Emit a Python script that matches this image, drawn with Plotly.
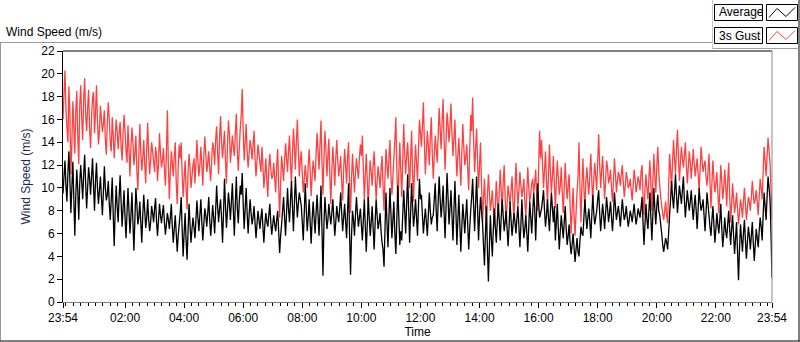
import plotly.graph_objects as go

# ---- data (one sample every 2 minutes, 23:54 -> 23:54 next day) ----
sample_minutes = 2

gust = [
    16.0, 18.2, 20.3, 17.0, 15.2, 14.0, 18.9, 16.5, 11.2, 13.8, 17.6, 15.4, 13.0, 16.8, 18.5, 14.6, 12.1, 17.2, 19.0, 16.1,
    14.2, 17.8, 19.6, 16.4, 15.0, 17.0, 18.6, 15.2, 13.5, 16.2, 17.9, 18.4, 14.8, 16.6, 19.0, 15.8, 13.8, 15.0, 17.2, 16.0,
    14.9, 15.6, 16.8, 14.2, 12.9, 15.8, 17.5, 16.0, 14.0, 13.2, 16.2, 14.6, 12.6, 14.4, 16.0, 15.0, 13.4, 14.8, 15.8, 13.6,
    12.4, 14.8, 16.4, 15.0, 13.2, 12.2, 15.5, 13.4, 11.0, 13.6, 15.3, 14.0, 12.0, 13.0, 14.6, 11.6, 9.8, 12.8, 15.6, 13.2,
    11.5, 12.6, 14.2, 12.0, 10.4, 13.4, 15.7, 13.0, 11.2, 12.4, 14.0, 13.2, 12.3, 11.4, 13.6, 12.8, 10.6, 12.2, 14.8, 13.0,
    11.8, 12.4, 13.5, 11.6, 10.2, 13.0, 16.8, 12.0, 9.0, 11.4, 13.2, 12.2, 11.0, 12.8, 14.0, 10.4, 8.6, 11.8, 13.8, 12.6,
    14.0, 11.2, 9.2, 10.8, 12.4, 10.0, 8.1, 11.4, 13.0, 11.8, 10.0, 11.0, 12.0, 12.6, 10.4, 12.2, 14.2, 12.4, 11.0, 12.0,
    13.6, 12.0, 10.2, 12.8, 14.5, 13.0, 11.4, 12.2, 13.2, 11.6, 10.6, 12.4, 14.0, 13.4, 12.0, 14.2, 15.4, 13.0, 11.2, 14.4,
    16.3, 14.0, 12.6, 13.8, 15.0, 12.4, 10.4, 13.6, 15.9, 14.8, 12.2, 13.4, 14.6, 13.6, 12.8, 14.8, 16.5, 13.2, 11.5, 13.4,
    15.2, 16.4, 18.7, 15.0, 12.4, 14.0, 15.6, 13.2, 11.8, 13.0, 14.2, 13.6, 12.5, 13.8, 15.0, 12.6, 11.0, 12.4, 13.8, 13.0,
    12.2, 11.4, 13.6, 12.0, 10.0, 11.2, 12.6, 10.6, 9.2, 11.8, 13.0, 11.6, 10.8, 11.0, 12.2, 10.8, 9.6, 12.0, 13.4, 10.2,
    7.4, 10.4, 12.8, 11.8, 10.6, 12.4, 13.9, 12.6, 11.4, 13.2, 14.6, 12.2, 10.4, 13.0, 15.2, 13.6, 11.6, 14.0, 16.0, 13.4,
    11.0, 12.4, 13.2, 11.2, 9.6, 10.8, 12.0, 11.0, 10.0, 12.0, 13.4, 11.4, 9.3, 11.0, 12.4, 11.6, 10.6, 13.0, 14.8, 13.2,
    11.6, 13.8, 15.9, 12.2, 9.4, 12.6, 15.0, 13.4, 11.0, 12.8, 14.3, 11.0, 8.6, 11.6, 13.6, 12.0, 10.2, 12.6, 14.2, 12.4,
    11.0, 11.8, 12.8, 10.4, 8.9, 11.6, 13.4, 12.0, 10.4, 12.6, 14.0, 10.6, 7.8, 10.8, 13.0, 11.2, 9.6, 11.4, 12.6, 11.6,
    10.8, 12.6, 13.8, 12.8, 14.6, 11.6, 9.0, 11.2, 13.0, 10.6, 8.4, 10.8, 12.4, 11.4, 10.2, 12.0, 13.2, 11.0, 9.0, 10.6,
    11.9, 11.0, 10.0, 11.6, 12.8, 10.2, 8.0, 11.0, 13.4, 12.0, 10.8, 12.6, 14.2, 11.2, 9.4, 11.0, 12.6, 14.2, 16.2, 11.8,
    8.2, 11.2, 14.0, 11.6, 9.2, 12.4, 15.6, 13.0, 11.2, 12.8, 14.0, 12.0, 10.0, 12.6, 15.0, 11.4, 8.8, 11.8, 13.8, 12.2,
    10.6, 13.4, 16.0, 14.8, 13.6, 15.4, 17.5, 14.0, 11.2, 13.2, 15.0, 13.6, 12.0, 14.4, 16.2, 13.0, 10.8, 12.8, 14.6, 13.4,
    12.2, 14.6, 17.0, 15.2, 13.4, 15.8, 17.8, 14.2, 11.6, 14.0, 16.6, 15.6, 14.0, 15.4, 17.4, 14.8, 12.8, 14.4, 16.0, 13.2,
    11.0, 12.8, 14.4, 12.2, 10.2, 13.0, 15.6, 13.6, 12.0, 12.6, 13.8, 11.6, 9.8, 13.2, 16.4, 15.0, 17.9, 14.2, 11.4, 13.4,
    15.2, 12.4, 10.0, 12.0, 14.0, 10.2, 7.0, 9.0, 10.8, 8.6, 6.8, 9.4, 11.2, 9.6, 8.0, 8.8, 9.8, 8.2, 6.6, 8.4,
    10.6, 9.0, 7.4, 9.6, 11.6, 9.8, 8.2, 10.4, 12.0, 9.2, 6.9, 8.8, 10.2, 9.4, 8.6, 9.8, 11.0, 8.8, 7.2, 10.0,
    12.2, 10.0, 8.4, 9.8, 11.4, 10.2, 9.2, 9.8, 10.8, 8.8, 7.4, 9.6, 11.8, 10.0, 8.8, 9.4, 10.4, 10.8, 9.6, 10.4,
    11.6, 9.4, 8.0, 11.8, 15.0, 12.6, 14.2, 12.0, 10.0, 11.6, 13.2, 10.6, 8.4, 11.2, 13.8, 11.4, 9.6, 11.0, 12.8, 10.4,
    8.2, 10.6, 12.4, 10.8, 9.4, 10.2, 11.8, 9.6, 7.8, 10.0, 12.2, 10.4, 9.0, 10.2, 11.2, 8.4, 6.0, 8.0, 10.0, 7.6,
    5.8, 7.8, 9.6, 11.0, 14.0, 9.8, 7.0, 10.2, 12.6, 10.0, 8.0, 10.6, 11.8, 10.4, 9.4, 11.2, 13.0, 10.6, 8.6, 10.8,
    12.2, 11.0, 9.8, 12.4, 14.7, 12.0, 10.0, 11.6, 12.8, 10.8, 9.0, 10.6, 12.4, 11.8, 10.4, 10.8, 11.6, 10.0, 8.8, 10.6,
    12.6, 11.2, 9.6, 10.6, 11.4, 11.0, 10.2, 11.2, 12.0, 10.4, 9.2, 10.2, 11.4, 10.8, 10.0, 10.2, 10.8, 9.8, 8.9, 10.2,
    11.6, 10.8, 9.6, 10.2, 11.0, 10.6, 9.8, 11.4, 12.0, 9.4, 7.6, 9.8, 11.2, 10.0, 9.0, 10.8, 12.4, 10.2, 8.0, 10.6,
    13.0, 11.0, 9.6, 11.8, 13.6, 11.4, 10.2, 9.2, 8.4, 7.8, 7.2, 8.0, 8.8, 7.6, 6.9, 10.0, 13.0, 11.6, 10.0, 12.2,
    14.2, 12.6, 11.2, 13.4, 15.1, 12.8, 10.6, 12.2, 13.6, 12.6, 11.8, 12.8, 14.0, 12.0, 10.4, 11.8, 13.2, 12.2, 10.8, 12.0,
    13.4, 12.2, 11.0, 11.8, 12.6, 11.2, 9.8, 11.6, 13.6, 12.4, 11.4, 12.0, 12.4, 11.0, 10.2, 11.4, 13.0, 10.6, 8.2, 10.4,
    12.4, 10.8, 9.6, 10.4, 11.4, 9.6, 7.8, 9.8, 12.0, 10.6, 9.0, 10.0, 11.6, 10.2, 8.4, 10.6, 12.2, 9.4, 7.0, 8.6,
    10.4, 9.0, 7.8, 8.6, 9.6, 8.2, 6.8, 7.8, 9.0, 8.4, 7.4, 8.8, 10.0, 8.6, 7.2, 8.2, 9.2, 8.8, 8.0, 9.2,
    10.6, 9.4, 8.6, 9.0, 9.8, 8.8, 7.6, 9.2, 10.8, 10.0, 9.0, 11.4, 13.6, 12.4, 11.0, 12.8, 14.4, 13.2, 12.2, 10.0,
    7.2,
]

average = [
    9.5, 11.0, 12.4, 10.2, 8.8, 11.4, 13.2, 10.6, 7.8, 10.0, 12.3, 9.0, 5.8, 9.4, 11.6, 9.8, 7.2, 10.4, 12.0, 10.6,
    9.0, 11.2, 12.9, 10.4, 8.2, 10.0, 11.8, 10.8, 9.4, 11.0, 12.6, 10.2, 8.0, 10.6, 12.2, 10.0, 8.6, 9.8, 11.0, 9.2,
    7.6, 9.6, 11.9, 10.0, 8.9, 9.4, 10.6, 8.6, 7.2, 9.0, 10.9, 7.6, 4.9, 8.0, 10.2, 8.4, 7.0, 9.2, 11.1, 8.8,
    6.6, 8.2, 9.8, 7.4, 5.6, 7.8, 10.0, 8.0, 6.0, 7.6, 9.6, 7.0, 4.5, 7.2, 10.0, 8.6, 6.8, 7.4, 8.8, 7.0,
    5.2, 7.6, 9.4, 8.0, 6.5, 7.4, 9.0, 7.2, 6.2, 7.0, 8.4, 7.8, 7.0, 8.2, 9.1, 7.0, 5.8, 7.2, 8.6, 7.6,
    6.9, 7.8, 8.5, 7.0, 5.9, 6.8, 7.8, 7.2, 6.4, 7.4, 8.6, 6.6, 5.2, 6.4, 7.6, 6.0, 4.4, 5.8, 6.8, 7.8,
    9.2, 6.4, 4.0, 6.0, 7.8, 5.4, 3.7, 6.2, 8.6, 6.8, 5.2, 6.4, 7.4, 6.6, 5.6, 7.2, 8.9, 7.4, 6.2, 7.6,
    9.0, 7.0, 5.4, 6.8, 8.2, 7.6, 6.6, 7.8, 9.2, 7.2, 5.8, 7.0, 8.5, 7.4, 6.0, 8.0, 10.2, 8.4, 7.0, 8.2,
    9.0, 7.4, 5.2, 7.8, 10.8, 8.4, 6.5, 8.0, 9.6, 8.6, 7.2, 8.8, 10.4, 8.0, 5.8, 8.6, 11.0, 8.2, 6.9, 8.8,
    10.2, 9.4, 11.3, 8.6, 6.4, 8.2, 10.0, 7.8, 6.0, 7.6, 9.0, 7.8, 6.8, 7.4, 8.4, 7.0, 5.6, 6.8, 8.0, 7.2,
    6.4, 7.4, 8.2, 6.6, 5.2, 6.8, 7.8, 7.0, 6.6, 7.6, 8.6, 7.0, 5.9, 6.8, 7.6, 6.8, 6.2, 7.2, 8.0, 6.2,
    4.3, 5.8, 6.8, 8.0, 9.2, 7.4, 5.8, 7.8, 10.0, 8.2, 7.0, 8.8, 10.6, 8.4, 6.2, 8.6, 11.0, 9.0, 7.4, 8.6,
    9.6, 9.0, 8.4, 7.0, 5.4, 7.8, 10.4, 8.2, 6.2, 7.4, 9.0, 7.0, 5.1, 7.2, 8.8, 7.4, 6.0, 7.8, 9.4, 7.6,
    5.8, 8.0, 10.2, 6.4, 2.3, 6.8, 9.2, 7.8, 6.4, 7.2, 8.6, 7.6, 6.8, 7.8, 9.0, 7.4, 5.8, 7.0, 8.4, 7.6,
    7.0, 8.2, 9.6, 7.8, 6.2, 7.4, 8.6, 7.0, 5.6, 8.0, 10.4, 6.0, 2.4, 5.8, 8.0, 7.2, 5.8, 7.6, 9.2, 7.8,
    6.6, 7.4, 8.2, 6.8, 5.4, 7.2, 9.0, 6.6, 4.4, 6.8, 9.2, 7.4, 5.8, 7.0, 8.4, 6.4, 4.6, 7.0, 9.0, 7.6,
    6.4, 7.0, 7.8, 6.2, 5.2, 4.6, 3.1, 6.4, 9.6, 7.0, 4.8, 7.4, 10.0, 7.8, 5.6, 7.2, 8.8, 6.0, 4.2, 7.2,
    10.2, 7.6, 5.0, 6.2, 5.4, 7.6, 9.8, 8.0, 6.0, 8.6, 11.2, 8.2, 5.2, 7.8, 10.4, 8.4, 6.6, 7.6, 9.0, 7.4,
    5.8, 8.4, 10.8, 9.0, 9.4, 7.6, 6.0, 7.2, 8.2, 7.0, 5.8, 7.6, 9.6, 8.0, 6.8, 7.4, 7.6, 9.0, 10.4, 8.0,
    6.2, 8.8, 11.0, 9.0, 7.4, 8.6, 10.2, 7.8, 5.6, 8.4, 11.3, 9.2, 6.8, 8.2, 9.8, 7.6, 5.4, 8.0, 10.6, 8.0,
    5.0, 7.2, 9.4, 6.8, 4.4, 6.6, 8.6, 7.4, 6.0, 7.6, 9.0, 6.8, 4.6, 6.4, 8.0, 9.2, 10.8, 8.4, 6.2, 8.6,
    11.0, 8.2, 5.4, 7.6, 9.2, 8.0, 7.0, 5.0, 3.2, 6.0, 8.4, 4.6, 1.8, 4.8, 7.6, 5.6, 4.0, 6.4, 8.2, 6.6,
    5.2, 7.0, 8.6, 7.2, 5.4, 7.4, 9.0, 7.6, 6.2, 7.0, 8.0, 6.4, 4.9, 6.6, 8.8, 7.2, 5.8, 6.8, 7.8, 7.0,
    6.0, 7.4, 8.4, 6.6, 4.8, 6.8, 9.0, 7.0, 5.6, 6.4, 7.6, 6.0, 4.4, 6.6, 8.8, 7.4, 6.0, 7.8, 9.6, 8.2,
    5.4, 8.0, 10.4, 8.6, 7.4, 7.8, 8.2, 9.0, 9.8, 8.0, 6.6, 7.6, 9.0, 7.4, 6.2, 8.0, 9.6, 8.2, 7.0, 8.4,
    5.4, 7.0, 8.6, 6.4, 4.6, 6.2, 7.6, 6.6, 5.6, 7.0, 8.4, 6.4, 5.0, 5.8, 6.8, 5.2, 4.2, 5.0, 6.0, 4.8,
    3.5, 4.6, 5.6, 4.4, 4.0, 5.4, 6.6, 6.0, 5.8, 7.4, 9.0, 7.6, 6.4, 7.4, 8.2, 7.0, 5.6, 7.6, 9.4, 7.8,
    6.8, 7.4, 8.0, 9.0, 9.8, 7.8, 6.2, 7.4, 8.6, 7.6, 6.4, 7.8, 9.2, 8.2, 7.0, 7.8, 8.8, 7.4, 6.2, 7.6,
    9.6, 8.4, 7.2, 7.8, 8.4, 7.6, 6.6, 7.8, 9.0, 8.0, 7.2, 7.6, 8.4, 7.4, 6.6, 7.2, 8.0, 7.6, 7.0, 7.8,
    8.6, 7.6, 6.8, 7.4, 8.2, 7.8, 7.4, 8.2, 9.2, 7.0, 5.0, 6.8, 8.6, 7.2, 6.4, 8.0, 9.6, 7.4, 5.4, 7.6,
    10.0, 8.2, 6.8, 8.4, 9.4, 8.0, 7.6, 6.8, 6.0, 5.0, 4.4, 5.0, 5.6, 5.2, 4.6, 6.0, 7.6, 9.0, 10.6, 9.2,
    8.2, 9.6, 11.2, 9.4, 7.8, 9.0, 10.2, 9.4, 8.6, 9.8, 11.0, 9.0, 7.4, 8.6, 9.8, 8.8, 8.0, 8.8, 9.8, 8.4,
    7.2, 8.4, 9.4, 8.0, 6.4, 8.2, 10.0, 8.8, 8.0, 8.4, 9.0, 7.6, 6.2, 7.8, 9.6, 8.6, 7.6, 6.6, 5.8, 7.2,
    8.4, 6.8, 5.2, 6.4, 7.8, 6.8, 6.0, 7.2, 8.6, 6.4, 4.8, 6.0, 7.4, 6.2, 5.6, 6.8, 8.0, 6.4, 5.0, 6.4,
    7.6, 5.8, 4.2, 5.6, 7.0, 4.4, 1.9, 4.6, 6.8, 5.6, 4.4, 6.0, 7.2, 5.4, 3.8, 5.2, 6.6, 5.8, 4.6, 5.8,
    7.0, 5.2, 3.6, 5.0, 6.4, 5.6, 4.8, 6.2, 7.4, 6.6, 5.4, 7.6, 9.6, 8.4, 7.2, 9.2, 11.0, 10.0, 9.0, 6.0,
    2.1,
]

assert len(gust) == len(average) == 721, (len(gust), len(average))

elapsed_minutes = [i * sample_minutes for i in range(len(average))]

time_tick_minutes = [0, 126, 246, 366, 486, 606, 726, 846, 966, 1086, 1206, 1326, 1440]
time_tick_labels = ["23:54", "02:00", "04:00", "06:00", "08:00", "10:00", "12:00",
                    "14:00", "16:00", "18:00", "20:00", "22:00", "23:54"]

series_names = ["Average", "3s Gust"]
series_colors = ["#000000", "#ff4040"]

# ---- layout helpers (pixel -> paper) ----
W, H = 800, 342
L, R, T, B = 63, 772, 51, 302


def px(x):
    return (x - L) / (R - L)


def py(y):
    return (B - y) / (B - T)


FONT = "Liberation Sans"

fig = go.Figure()
fig.add_trace(go.Scatter(x=elapsed_minutes, y=gust, mode="lines", name=series_names[1],
                         line=dict(color=series_colors[1], width=1.3, simplify=False)))
fig.add_trace(go.Scatter(x=elapsed_minutes, y=average, mode="lines", name=series_names[0],
                         line=dict(color=series_colors[0], width=1.3, simplify=False)))

shapes = []
# plot frame
shapes.append(dict(type="line", xref="paper", yref="paper", x0=0, x1=1, y0=1, y1=1,
                   line=dict(color="#000000", width=1)))
shapes.append(dict(type="line", xref="paper", yref="paper", x0=1, x1=1, y0=0, y1=1,
                   line=dict(color="#8a8a8a", width=1)))
# outer panel
shapes.append(dict(type="line", xref="paper", yref="paper", x0=px(0), x1=px(713),
                   y0=py(42.5), y1=py(42.5), line=dict(color="#9a9a9a", width=1)))
shapes.append(dict(type="line", xref="paper", yref="paper", x0=px(0.5), x1=px(0.5),
                   y0=py(42.5), y1=py(341), line=dict(color="#9a9a9a", width=1)))
shapes.append(dict(type="line", xref="paper", yref="paper", x0=px(0), x1=px(800),
                   y0=py(341), y1=py(341), line=dict(color="#000000", width=1)))
shapes.append(dict(type="line", xref="paper", yref="paper", x0=px(799), x1=px(799),
                   y0=py(0), y1=py(341), line=dict(color="#000000", width=1)))
# legend panel
shapes.append(dict(type="line", xref="paper", yref="paper", x0=px(712.5), x1=px(712.5),
                   y0=py(0), y1=py(48.5), line=dict(color="#c8c8c8", width=1)))
shapes.append(dict(type="line", xref="paper", yref="paper", x0=px(712.5), x1=px(799),
                   y0=py(48.5), y1=py(48.5), line=dict(color="#a0a0a0", width=1)))

annotations = []
row_tops = [4.5, 27.5]
for k, (name, col) in enumerate(zip(series_names, series_colors)):
    y0 = row_tops[k]
    y1 = y0 + 16
    shapes.append(dict(type="rect", xref="paper", yref="paper", x0=px(714.5), x1=px(762.5),
                       y0=py(y1), y1=py(y0), line=dict(color="#000000", width=1),
                       fillcolor="#fafafa"))
    shapes.append(dict(type="rect", xref="paper", yref="paper", x0=px(766.5), x1=px(797.5),
                       y0=py(y1), y1=py(y0), line=dict(color="#000000", width=1),
                       fillcolor="#ffffff"))
    pts = [(769, y0 + 13), (777, y0 + 4), (786, y0 + 12), (795, y0 + 3)]
    path = "M " + " L ".join(f"{px(a):.5f},{py(b):.5f}" for a, b in pts)
    shapes.append(dict(type="path", xref="paper", yref="paper", path=path,
                       line=dict(color=col, width=1)))
    annotations.append(dict(x=px(717), y=py(y0 + 8), xref="paper", yref="paper",
                            text=name, showarrow=False, xanchor="left", yanchor="middle",
                            font=dict(family=FONT, size=12, color="#000000")))

annotations.append(dict(x=px(4), y=py(32), xref="paper", yref="paper",
                        text="Wind Speed (m/s)", showarrow=False, xanchor="left",
                        yanchor="middle", font=dict(family=FONT, size=12, color="#000000")))

fig.update_layout(
    width=W, height=H,
    margin=dict(l=L, r=W - R, t=T, b=H - B, pad=0),
    paper_bgcolor="#ffffff", plot_bgcolor="#ffffff",
    template="none",
    showlegend=False,
    shapes=shapes,
    annotations=annotations,
    font=dict(family=FONT, size=12, color="#000000"),
    xaxis=dict(
        range=[0, 1440], tickmode="array", tickvals=time_tick_minutes, ticktext=time_tick_labels,
        ticks="outside", ticklen=5, tickcolor="#000000", tickwidth=1,
        showline=True, linecolor="#7a7a7a", linewidth=1, showgrid=False, zeroline=False,
        title=dict(text="Time", standoff=2, font=dict(family=FONT, size=12)),
        tickfont=dict(family=FONT, size=12),
        minor=dict(tickmode="linear", tick0=6, dtick=15, ticks="outside", ticklen=3,
                   tickcolor="#000000", showgrid=False),
        automargin=False,
    ),
    yaxis=dict(
        range=[0, 22], tickmode="linear", tick0=0, dtick=2,
        ticks="outside", ticklen=5, tickcolor="#000000", tickwidth=1,
        showline=True, linecolor="#000000", linewidth=1, showgrid=False, zeroline=False,
        title=dict(text="Wind Speed (m/s)", standoff=8, font=dict(family=FONT, size=12, color="#1a2a55")),
        tickfont=dict(family=FONT, size=12),
        automargin=False,
    ),
)

fig.write_html("out.html", config={"displayModeBar": False},
               post_script="document.body.style.margin='0';document.body.style.overflow='hidden';")
